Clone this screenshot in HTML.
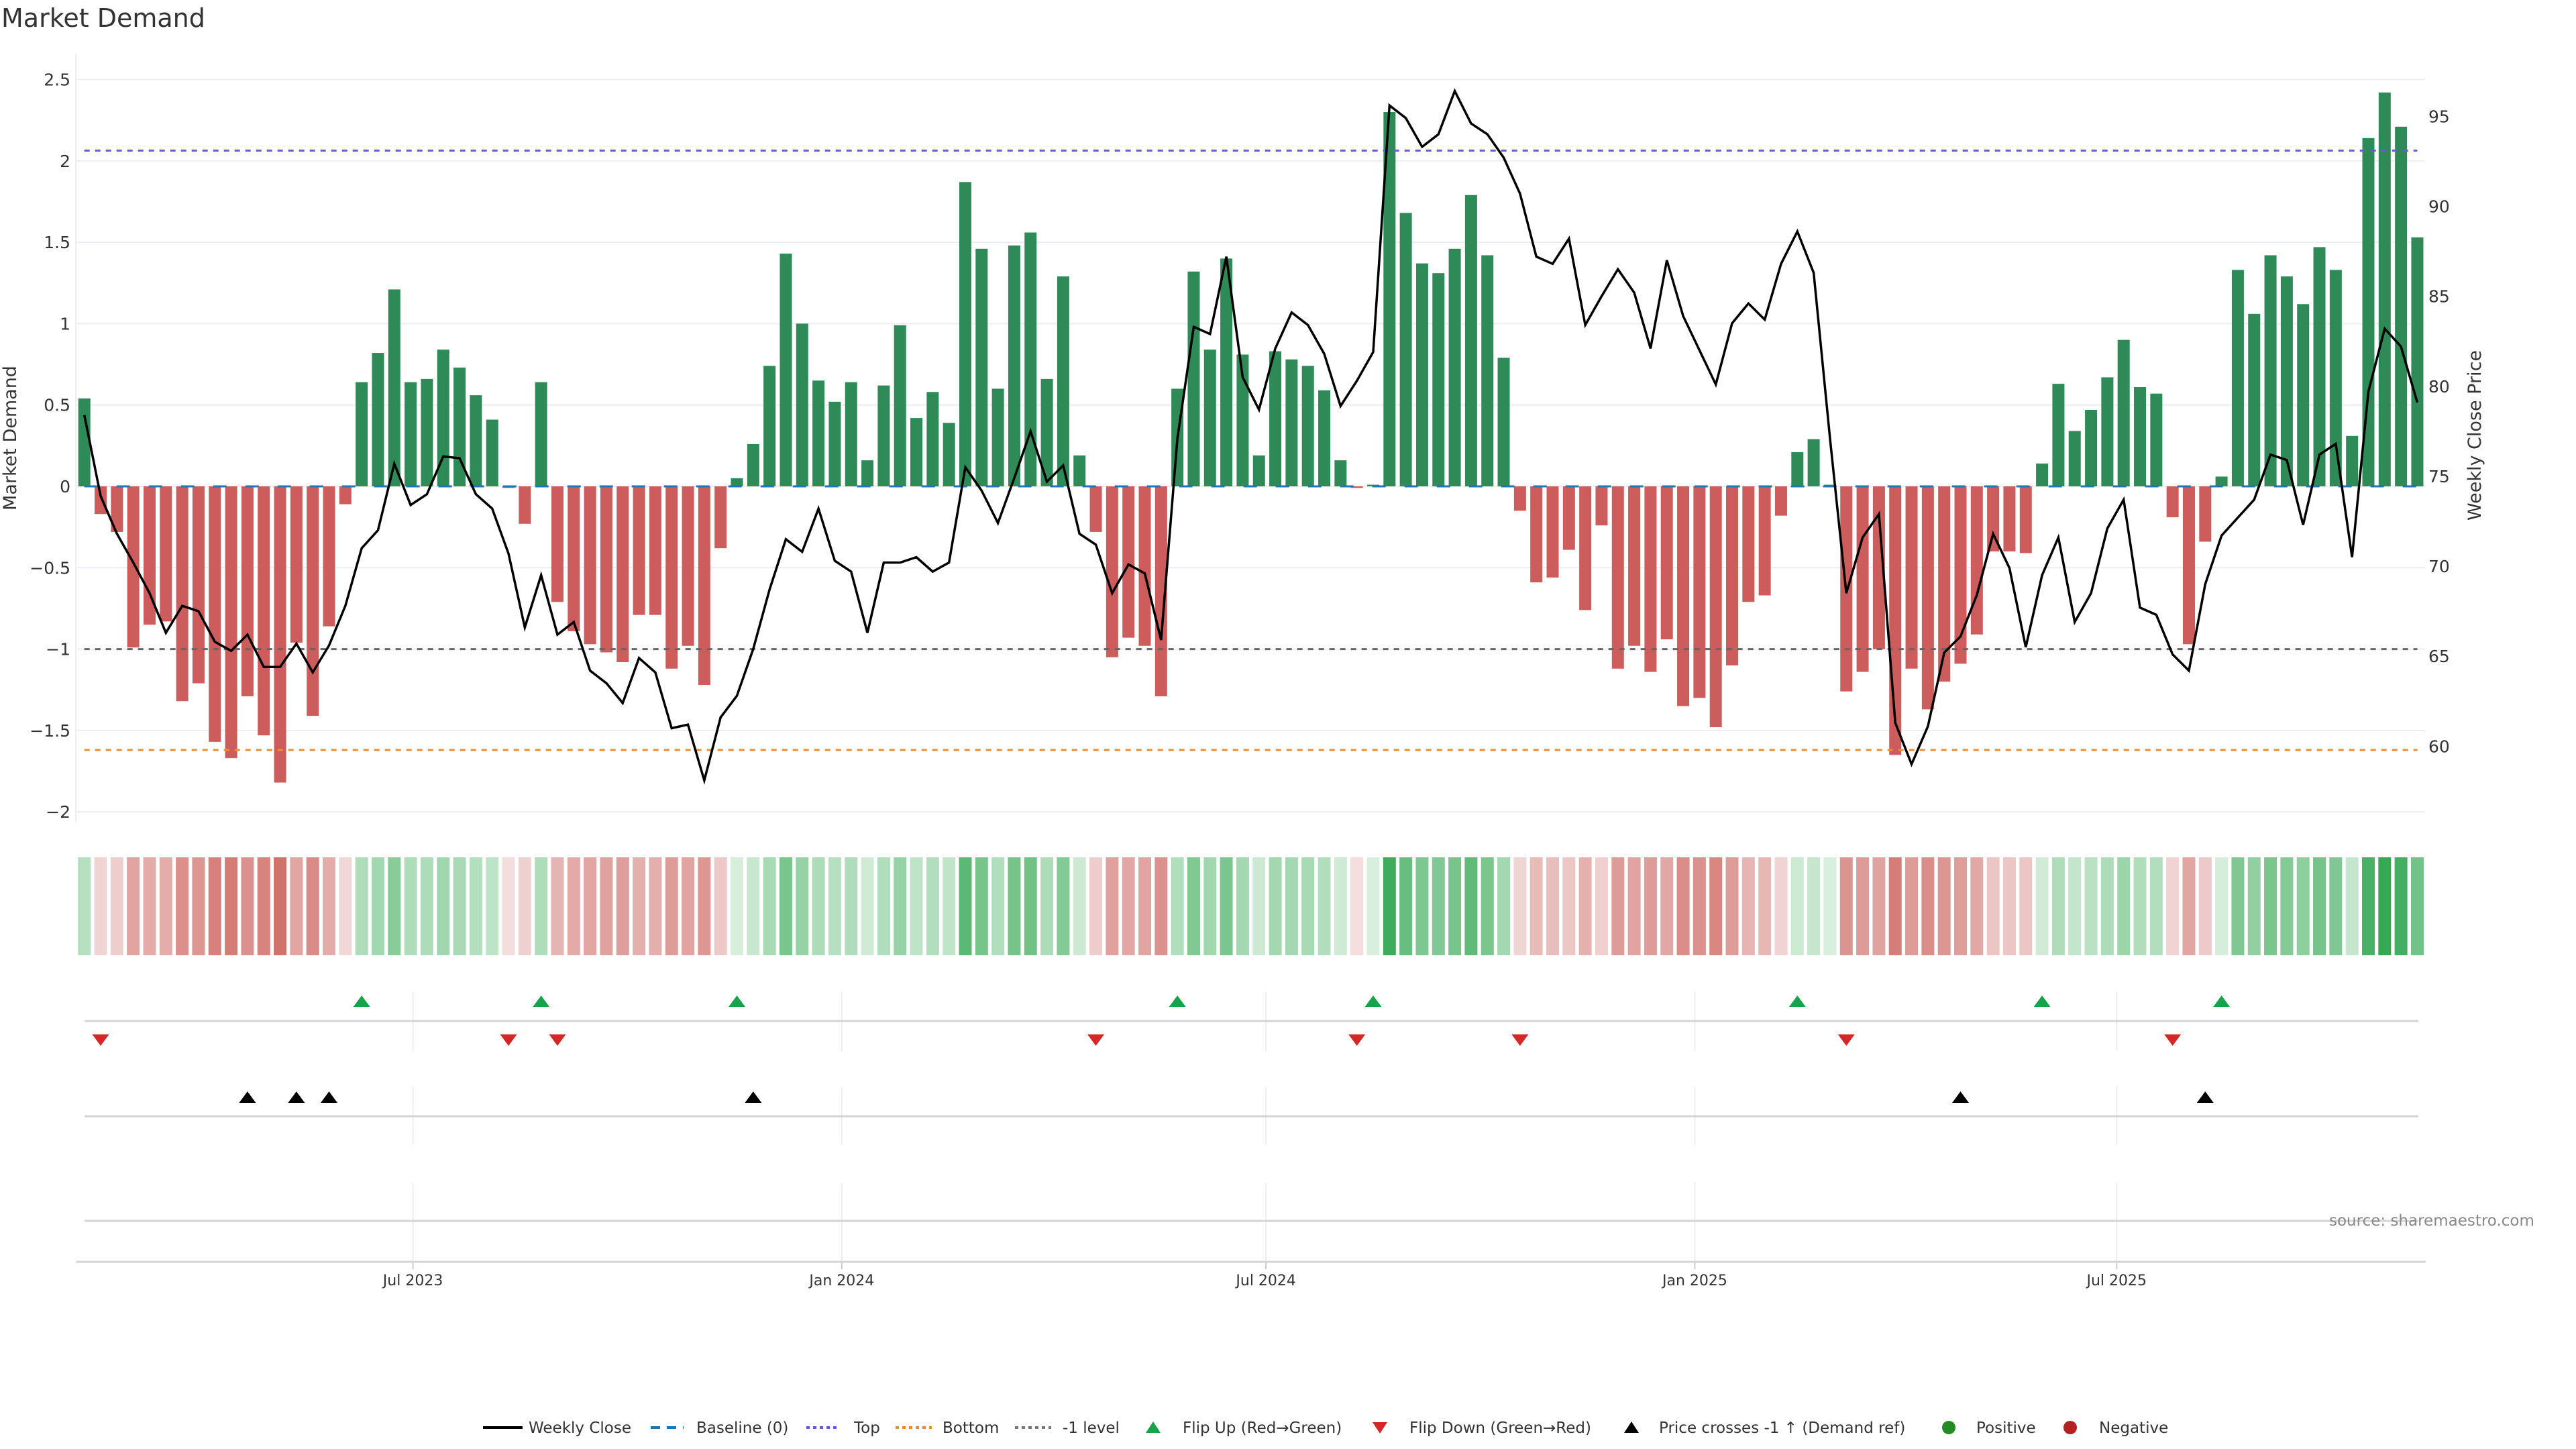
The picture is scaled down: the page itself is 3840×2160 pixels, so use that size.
<!DOCTYPE html>
<html><head><meta charset="utf-8"><style>
html,body{margin:0;padding:0;background:#fff;}
svg{display:block;font-family:"DejaVu Sans","Liberation Sans",sans-serif;}
</style></head><body>
<svg id="chart" width="3840" height="2160" viewBox="0 0 3840 2160" xmlns="http://www.w3.org/2000/svg">
<rect width="3840" height="2160" fill="#fff"/>
<text x="2" y="40" font-size="38" fill="#333">Market Demand</text>
<g id="grid"></g>
<g id="ref"></g>
<g id="bars"></g>
<g id="line"></g>
<g id="heat"></g>
<g id="sub"></g>
<g id="axes"></g>
<text transform="translate(24,653) rotate(-90)" text-anchor="middle" font-size="27" fill="#333">Market Demand</text>
<text transform="translate(3698,649) rotate(-90)" text-anchor="middle" font-size="27" fill="#333">Weekly Close Price</text>
<text x="3472" y="1827" font-size="23" fill="#888">source: sharemaestro.com</text>
<g id="legend"></g>
</svg>
<script>
const startDate = "2023-02-10";
const demand = [0.54,-0.17,-0.28,-0.99,-0.85,-0.83,-1.32,-1.21,-1.57,-1.67,
-1.29,-1.53,-1.82,-0.96,-1.41,-0.86,-0.11,0.64,0.82,1.21,
0.64,0.66,0.84,0.73,0.56,0.41,-0.01,-0.23,0.64,-0.71,
-0.89,-0.97,-1.02,-1.08,-0.79,-0.79,-1.12,-0.98,-1.22,-0.38,
0.05,0.26,0.74,1.43,1.00,0.65,0.52,0.64,0.16,0.62,
0.99,0.42,0.58,0.39,1.87,1.46,0.60,1.48,1.56,0.66,
1.29,0.19,-0.28,-1.05,-0.93,-0.98,-1.29,0.60,1.32,0.84,
1.40,0.81,0.19,0.83,0.78,0.74,0.59,0.16,-0.01,0.01,
2.30,1.68,1.37,1.31,1.46,1.79,1.42,0.79,-0.15,-0.59,
-0.56,-0.39,-0.76,-0.24,-1.12,-0.98,-1.14,-0.94,-1.35,-1.30,
-1.48,-1.10,-0.71,-0.67,-0.18,0.21,0.29,0.01,-1.26,-1.14,
-1.00,-1.65,-1.12,-1.37,-1.20,-1.09,-0.91,-0.40,-0.40,-0.41,
0.14,0.63,0.34,0.47,0.67,0.90,0.61,0.57,-0.19,-0.97,
-0.34,0.06,1.33,1.06,1.42,1.29,1.12,1.47,1.33,0.31,
2.14,2.42,2.21,1.53];
const price = [78.4,73.9,71.8,70.2,68.5,66.3,67.8,67.5,65.8,65.3,
66.2,64.4,64.4,65.7,64.1,65.6,67.8,71.0,72.0,75.7,
73.4,74.0,76.1,76.0,74.0,73.2,70.7,66.6,69.5,66.2,
66.9,64.2,63.5,62.4,64.9,64.1,61.0,61.2,58.1,61.6,
62.8,65.4,68.7,71.5,70.8,73.2,70.3,69.7,66.3,70.2,
70.2,70.5,69.7,70.2,75.5,74.2,72.4,74.9,77.5,74.7,
75.6,71.8,71.2,68.5,70.1,69.6,65.9,77.1,83.3,82.9,
87.2,80.5,78.7,82.1,84.1,83.4,81.8,78.9,80.3,81.9,
95.6,94.9,93.3,94.0,96.4,94.6,94.0,92.7,90.7,87.2,
86.8,88.2,83.4,85.0,86.5,85.2,82.1,87.0,83.9,82.0,
80.1,83.5,84.6,83.7,86.8,88.6,86.3,77.1,68.5,71.6,
72.9,61.3,59.0,61.1,65.2,66.1,68.4,71.8,69.9,65.5,
69.5,71.6,66.9,68.5,72.1,73.7,67.7,67.3,65.1,64.2,
69.0,71.7,72.7,73.7,76.2,75.9,72.3,76.2,76.8,70.5,
79.7,83.2,82.2,79.1];
const crossIdx = [10,13,15,41,115,130];
const leftTicks = [2.5,2,1.5,1,0.5,0,-0.5,-1,-1.5,-2];
const rightTicks = [60,65,70,75,80,85,90,95];
const xTickDates = ["2023-07-01","2024-01-01","2024-07-01","2025-01-01","2025-07-01"];
const xTickLabels = ["Jul 2023","Jan 2024","Jul 2024","Jan 2025","Jul 2025"];
const topLevel = 2.063, bottomLevel = -1.62, minusLevel = -1;

const NS = "http://www.w3.org/2000/svg";
const t0 = Date.parse(startDate);
function xDate(s){ return 125.7 + (Date.parse(s) - t0) / 86400000 * (24.32/7); }
function xi(i){ return 125.7 + i*24.32; }
function yL(v){ return 725 - v*242.6; }
function yR(p){ return 173.3 + (95-p)*26.83; }
function mk(tag, attrs, parent, txt){
  const e = document.createElementNS(NS, tag);
  for (const k in attrs) e.setAttribute(k, attrs[k]);
  if (txt !== undefined) e.textContent = txt;
  parent.appendChild(e); return e;
}
const G = id => document.getElementById(id);
const L = 113, R = 3615;

// grid + left ticks
leftTicks.forEach(v => {
  const g = mk('line',{x1:L,x2:R,y1:yL(v),y2:yL(v),stroke:'#eceef2','stroke-width':2},G('grid'));
  
  
  const t = mk('text',{x:105,y:yL(v)+9,'text-anchor':'end','font-size':25,fill:'#333'},G('axes'),(v<0?'\u2212'+Math.abs(v):String(v)));
  
  
});
mk('line',{x1:L,x2:L,y1:80,y2:1225,stroke:'#eceef2','stroke-width':2},G('grid'));
rightTicks.forEach(p => {
  const t = mk('text',{x:3620,y:yR(p)+9,'font-size':25,fill:'#333'},G('axes'),String(p));
  
  
});

// reference lines
const x0 = xi(0), x1 = xi(demand.length-1);
[[topLevel,'#6a5acd','top-line','8 8'],[bottomLevel,'#f28c28','bottom-line','8 8'],[minusLevel,'#666','minus-one-line','8 8']].forEach(r => {
  const l = mk('line',{x1:x0,x2:x1,y1:yL(r[0]),y2:yL(r[0]),stroke:r[1],'stroke-width':3,'stroke-dasharray':r[3]},G('ref'));
  
  
});

// bars
demand.forEach((v,i) => {
  const y = Math.min(yL(v), yL(0)), h = Math.abs(yL(v)-yL(0));
  const b = mk('rect',{x:xi(i)-9,y:y,width:18,height:Math.max(h,0.5),fill:v>=0?'#2e8b57':'#cd5c5c'},G('bars'));
  
  
});
const base = mk('line',{x1:x0,x2:x1,y1:yL(0),y2:yL(0),stroke:'#1f77b4','stroke-width':3,'stroke-dasharray':'20 28'},G('ref'));


G('ref').parentNode.insertBefore(G('bars'), G('ref'));

// price line
const pl = mk('polyline',{points:price.map((p,i)=>xi(i)+','+yR(p)).join(' '),fill:'none',stroke:'#000','stroke-width':3.5,'stroke-linejoin':'miter'},G('line'));



// heatmap strip
function mix(a,b,t){ t=Math.max(0,Math.min(1,t)); return 'rgb('+a.map((c,k)=>Math.round(c+(b[k]-c)*t)).join(',')+')'; }
demand.forEach((v,i) => {
  const col = v>=0 ? mix([218,239,222],[52,168,83],v/2.45) : mix([243,222,222],[208,110,104],-v/1.9);
  const c = mk('rect',{x:xi(i)-9.5,y:1278,width:19,height:146,fill:col},G('heat'));
  
  
});

// subplots
const sub = G('sub');
xTickDates.forEach((d,k) => {
  const x = xDate(d);
  [[1478,1567],[1620,1707],[1763,1881]].forEach(s => mk('line',{x1:x,x2:x,y1:s[0],y2:s[1],stroke:'#eeeeee','stroke-width':2},sub));
  mk('line',{x1:x,x2:x,y1:1881,y2:1892,stroke:'#ccc','stroke-width':2},sub);
  const t = mk('text',{x:x,y:1916,'text-anchor':'middle','font-size':22,fill:'#333'},sub,xTickLabels[k]);
  
  
});
[1522,1664,1820].forEach(y => mk('line',{x1:126,x2:3605,y1:y,y2:y,stroke:'#d4d4d4','stroke-width':3},sub));
const xa = mk('line',{x1:114,x2:3616,y1:1881,y2:1881,stroke:'#d4d4d4','stroke-width':3},sub);



function tri(x,y,up,col,name){
  const pts = up ? [[x-12.5,y+8],[x+12.5,y+8],[x,y-9]] : [[x-12.5,y-8],[x+12.5,y-8],[x,y+9]];
  const t = mk('polygon',{points:pts.map(p=>p.join(',')).join(' '),fill:col},sub);
  
  
}
for (let i=1;i<demand.length;i++){
  if (demand[i-1] < 0 && demand[i] >= 0) tri(xi(i),1493,true,'#16a34a','flip-up-marker');
  if (demand[i-1] >= 0 && demand[i] < 0) tri(xi(i),1550,false,'#d62728','flip-down-marker');
}
crossIdx.forEach(i => tri(xi(i),1636,true,'#000','price-cross-marker'));

// legend
const lg = G('legend'), ly = 2128;
function ltext(x,s){ const t = mk('text',{x:x,y:ly+8,'font-size':23,fill:'#333'},lg,s);   }
mk('line',{x1:720,x2:779,y1:ly,y2:ly,stroke:'#000','stroke-width':4},lg); ltext(788,'Weekly Close');
mk('line',{x1:970,x2:1019,y1:ly,y2:ly,stroke:'#1f77b4','stroke-width':4,'stroke-dasharray':'14 10'},lg); ltext(1038,'Baseline (0)');
mk('line',{x1:1202,x2:1251,y1:ly,y2:ly,stroke:'#6a5acd','stroke-width':4,'stroke-dasharray':'5 5'},lg); ltext(1273,'Top');
mk('line',{x1:1335,x2:1389,y1:ly,y2:ly,stroke:'#f28c28','stroke-width':4,'stroke-dasharray':'5 5'},lg); ltext(1405,'Bottom');
mk('line',{x1:1513,x2:1567,y1:ly,y2:ly,stroke:'#777','stroke-width':4,'stroke-dasharray':'5 5'},lg); ltext(1584,'-1 level');
mk('polygon',{points:'1708,2136 1730,2136 1719,2119',fill:'#16a34a'},lg); ltext(1763,'Flip Up (Red\u2192Green)');
mk('polygon',{points:'2046,2120 2068,2120 2057,2137',fill:'#d62728'},lg); ltext(2101,'Flip Down (Green\u2192Red)');
mk('polygon',{points:'2421,2136 2443,2136 2432,2119',fill:'#000'},lg); ltext(2473,'Price crosses -1 \u2191 (Demand ref)');
mk('circle',{cx:2905,cy:ly,r:10,fill:'#228b22'},lg); ltext(2946,'Positive');
mk('circle',{cx:3086,cy:ly,r:10,fill:'#b22222'},lg); ltext(3129,'Negative');
</script>
</body></html>
